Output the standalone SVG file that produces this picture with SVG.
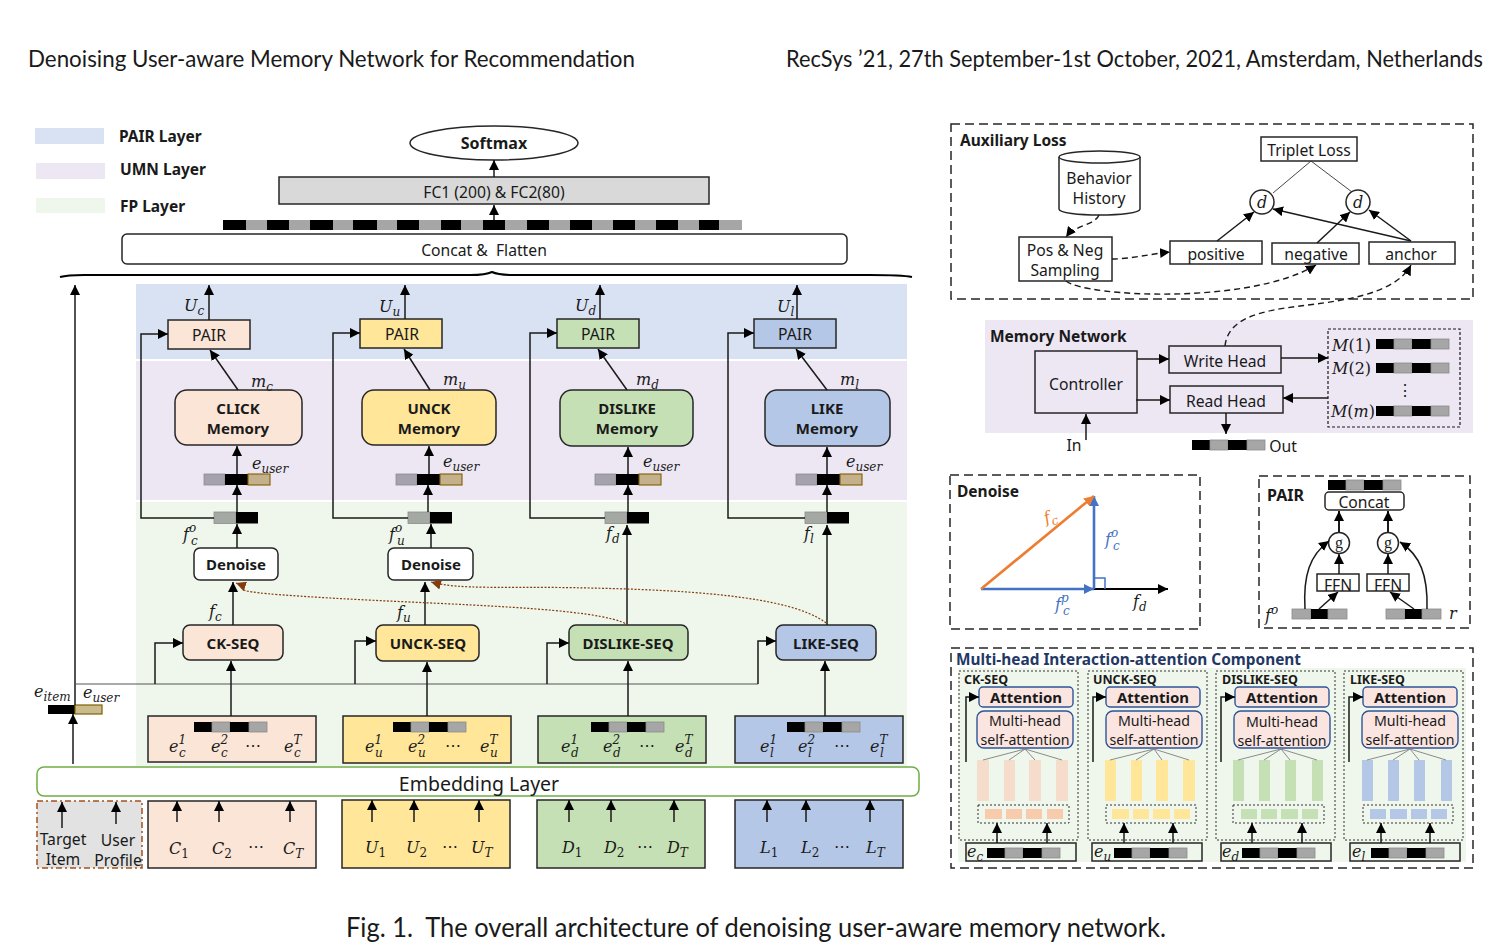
<svg xmlns="http://www.w3.org/2000/svg" width="1496" height="952" viewBox="0 0 1496 952">
<style>
text{fill:#1a1a1a}
.t{font-family:"Noto Sans","Open Sans",sans-serif;font-size:15.7px;text-anchor:middle;transform:translateY(.8px)}
.mh{font-family:"Noto Sans","Open Sans",sans-serif;font-size:14.2px;text-anchor:middle}
.b{font-family:"Noto Sans","Open Sans",sans-serif;font-size:15px;font-weight:700;text-anchor:middle}
.h{font-family:"Noto Sans","Open Sans",sans-serif;font-size:15.5px;font-weight:700;transform:translateY(.8px)}
.s{font-family:"Noto Sans","Open Sans",sans-serif;font-size:12.5px;font-weight:700}
.cap{font-family:Lato,"Liberation Sans",sans-serif}
.gg{font-family:"Liberation Serif",serif}
.m{font-family:"DejaVu Serif","Liberation Serif",serif;font-style:italic;font-size:16px}
.up{font-size:12px}
.rm{font-style:normal}
.box{stroke:#262626;stroke-width:1.5}
.c{fill:#fbe5d6}.u{fill:#ffe699}.d{fill:#c5e0b4}.l{fill:#b4c7e7}
.w{fill:#fff}.n{fill:none}
.dash{fill:none;stroke:#262626;stroke-width:1.5;stroke-dasharray:9 5}
.dot{fill:none;stroke:#333;stroke-width:1;stroke-dasharray:2 2}
.ar{fill:none;stroke:#1a1a1a;stroke-width:1.5;marker-end:url(#a)}
.da{fill:none;stroke:#1a1a1a;stroke-width:1.4;stroke-dasharray:6 4;marker-end:url(#a)}
.bd{fill:none;stroke:#843c0c;stroke-width:1.2;stroke-dasharray:2 1.6;marker-end:url(#r)}
.thin{fill:none;stroke:#7f7f7f;stroke-width:.9}
.hat{fill:#fbe5e1;stroke:#2f5597;stroke-width:1.4}
.bk{fill:#000}.gy{fill:#a6a6a6;stroke:#8c8c8c;stroke-width:.8}
.tn{fill:#c4b08b;stroke:#7f6000;stroke-width:1.1}
.pg{fill:#a5a2ad;stroke:#8c8c8c;stroke-width:.8}
.bl,.bl tspan{fill:#4472c4}
.or,.or tspan{fill:#ed7d31}
</style>
<defs>
<marker id="a" markerUnits="userSpaceOnUse" markerWidth="11" markerHeight="10" refX="10" refY="5" orient="auto"><path d="M0 0L10 5L0 10z" fill="#000"/></marker>
<marker id="r" markerUnits="userSpaceOnUse" markerWidth="11" markerHeight="10" refX="10" refY="5" orient="auto"><path d="M0 0L10 5L0 10z" fill="#843c0c"/></marker>
<marker id="o" markerUnits="userSpaceOnUse" markerWidth="11" markerHeight="10" refX="10" refY="5" orient="auto"><path d="M0 0L10 5L0 10z" fill="#ed7d31"/></marker>
<marker id="bm" markerUnits="userSpaceOnUse" markerWidth="11" markerHeight="10" refX="10" refY="5" orient="auto"><path d="M0 0L10 5L0 10z" fill="#4472c4"/></marker>
<g id="b4"><rect width="18" height="10" class="bk"/><rect x="18" width="18" height="10" class="gy"/><rect x="36" width="19" height="10" class="bk"/><rect x="55" width="18" height="10" class="gy"/></g>
<g id="bu"><rect width="21" height="11" class="pg"/><rect x="21" width="23" height="11" class="bk"/><rect x="44" width="22" height="11" class="tn"/></g>
<g id="bf"><rect width="22" height="11.500" fill="#a5a9a3" stroke="#8c8c8c" stroke-width=".8"/><rect x="22" width="22" height="11.500" class="bk"/></g>
<g id="b3"><rect width="19" height="10" class="gy"/><rect x="19" width="17" height="10" class="bk"/><rect x="36" width="19" height="10" class="gy"/></g>
</defs>
<rect width="1496" height="952" fill="#fff"/>

<g id="header">
<text class="cap" x="28" y="67" font-size="23" textLength="607" lengthAdjust="spacingAndGlyphs">Denoising User-aware Memory Network for Recommendation</text>
<text class="cap" x="786" y="67" font-size="22.5" textLength="697" lengthAdjust="spacingAndGlyphs">RecSys ’21, 27th September-1st October, 2021, Amsterdam, Netherlands</text>
<text class="cap" x="346" y="937" font-size="27" textLength="820" lengthAdjust="spacingAndGlyphs" xml:space="preserve">Fig. 1.  The overall architecture of denoising user-aware memory network.</text>
</g>

<g id="legend">
<rect x="35" y="128" width="69" height="16" fill="#d9e2f3"/><text class="h" x="119" y="141">PAIR Layer</text>
<rect x="36" y="163" width="69" height="16" fill="#ede7f4"/><text class="h" x="120" y="174">UMN Layer</text>
<rect x="36" y="198" width="69" height="15" fill="#eff6ec"/><text class="h" x="120" y="211">FP Layer</text>
</g>

<g id="bands">
<rect x="136" y="284" width="771" height="75" fill="#d9e2f3"/>
<rect x="136" y="361" width="771" height="139" fill="#ede7f4"/>
<rect x="136" y="502" width="771" height="264" fill="#eff6ec"/>
</g>

<g id="softmax"><ellipse cx="494" cy="143" rx="84" ry="17" class="box w"/><text class="b" x="494" y="149" style="font-size:16px">Softmax</text></g>
<g id="fc"><rect x="279" y="177" width="430" height="27" fill="#d9d9d9" class="box"/><text class="t" x="494" y="197">FC1 (200) &amp; FC2(80)</text></g>
<g id="flat-bar"><rect x="223" y="220" width="519" height="10" fill="#a6a6a6"/>
<path d="M223 220h23v10h-23zM267 220h22v10h-22zM310 220h23v10h-23zM353 220h24v10h-24zM397 220h22v10h-22zM441 220h20v10h-20zM483 220h22v10h-22zM527 220h22v10h-22zM570 220h22v10h-22zM613 220h22v10h-22zM656 220h22v10h-22zM699 220h20v10h-20z" fill="#000"/></g>
<g id="concat"><rect x="122" y="234" width="725" height="30" rx="5" class="box w"/><text class="t" x="484" y="255" xml:space="preserve">Concat &amp;  Flatten</text></g>
<path id="brace" d="M60 277C70 274 80 275 100 275H470C482 275 488 274 492 272C496 274 502 275 514 275H870C890 275 902 275 912 277" fill="none" stroke="#000" stroke-width="2"/>

<g id="pair-c"><rect x="168" y="320" width="82" height="29" class="box c"/><text class="t" x="209" y="340">PAIR</text></g>
<g id="pair-u"><rect x="360" y="319" width="82" height="29" class="box u"/><text class="t" x="402" y="339">PAIR</text></g>
<g id="pair-d"><rect x="557" y="319" width="82" height="29" class="box d"/><text class="t" x="598" y="339">PAIR</text></g>
<g id="pair-l"><rect x="754" y="319" width="82" height="29" class="box l"/><text class="t" x="795" y="339">PAIR</text></g>

<g id="mem-c"><rect x="175" y="390" width="127" height="55" rx="12" class="box c"/><text class="b" x="238" y="414">CLICK</text><text class="b" x="238" y="434">Memory</text></g>
<g id="mem-u"><rect x="362" y="390" width="134" height="55" rx="12" class="box u"/><text class="b" x="429" y="414">UNCK</text><text class="b" x="429" y="434">Memory</text></g>
<g id="mem-d"><rect x="560" y="390" width="133" height="56" rx="12" class="box d"/><text class="b" x="627" y="414">DISLIKE</text><text class="b" x="627" y="434">Memory</text></g>
<g id="mem-l"><rect x="765" y="390" width="125" height="56" rx="12" class="box l"/><text class="b" x="827" y="414">LIKE</text><text class="b" x="827" y="434">Memory</text></g>

<g id="bars">
<use href="#bu" x="204" y="474"/><use href="#bu" x="396" y="474"/><use href="#bu" x="595" y="474"/><use href="#bu" x="796" y="474"/>
<use href="#bf" x="214" y="512"/><use href="#bf" x="408" y="512"/><use href="#bf" x="605" y="512"/><use href="#bf" x="805" y="512"/>
</g>

<g id="denoise-c"><rect x="194" y="548" width="84" height="32" rx="6" class="box w"/><text class="b" x="236" y="570">Denoise</text></g>
<g id="denoise-u"><rect x="388" y="548" width="85" height="32" rx="6" class="box w"/><text class="b" x="431" y="570">Denoise</text></g>

<g id="seq-c"><rect x="183" y="625" width="100" height="35" rx="7" class="box c"/><text class="b" x="233" y="649">CK-SEQ</text></g>
<g id="seq-u"><rect x="376" y="625" width="103" height="36" rx="7" class="box u"/><text class="b" x="428" y="649">UNCK-SEQ</text></g>
<g id="seq-d"><rect x="569" y="625" width="119" height="35" rx="7" class="box d"/><text class="b" x="628" y="649">DISLIKE-SEQ</text></g>
<g id="seq-l"><rect x="776" y="625" width="100" height="35" rx="7" class="box l"/><text class="b" x="826" y="649">LIKE-SEQ</text></g>

<g id="emb-c"><rect x="148" y="716" width="168" height="46" class="box c"/><use href="#b4" x="194" y="722"/>
<text class="m" x="169" y="752">e<tspan class="up" dy="-8">1</tspan><tspan class="up" x="179" dy="13">c</tspan></text><text class="m" x="211" y="752">e<tspan class="up" dy="-8">2</tspan><tspan class="up" x="221" dy="13">c</tspan></text><text class="t" x="253" y="750">⋯</text><text class="m" x="284" y="752">e<tspan class="up" dy="-8">T</tspan><tspan class="up" x="294" dy="13">c</tspan></text></g>
<g id="emb-u"><rect x="343" y="716" width="168" height="47" class="box u"/><use href="#b4" x="393" y="722"/>
<text class="m" x="365" y="752">e<tspan class="up" dy="-8">1</tspan><tspan class="up" x="375" dy="13">u</tspan></text><text class="m" x="408" y="752">e<tspan class="up" dy="-8">2</tspan><tspan class="up" x="418" dy="13">u</tspan></text><text class="t" x="453" y="750">⋯</text><text class="m" x="480" y="752">e<tspan class="up" dy="-8">T</tspan><tspan class="up" x="490" dy="13">u</tspan></text></g>
<g id="emb-d"><rect x="538" y="716" width="168" height="47" class="box d"/><use href="#b4" x="591" y="722"/>
<text class="m" x="561" y="752">e<tspan class="up" dy="-8">1</tspan><tspan class="up" x="571" dy="13">d</tspan></text><text class="m" x="603" y="752">e<tspan class="up" dy="-8">2</tspan><tspan class="up" x="613" dy="13">d</tspan></text><text class="t" x="647" y="750">⋯</text><text class="m" x="675" y="752">e<tspan class="up" dy="-8">T</tspan><tspan class="up" x="685" dy="13">d</tspan></text></g>
<g id="emb-l"><rect x="735" y="716" width="168" height="47" class="box l"/><use href="#b4" x="787" y="722"/>
<text class="m" x="760" y="752">e<tspan class="up" dy="-8">1</tspan><tspan class="up" x="770" dy="13">l</tspan></text><text class="m" x="798" y="752">e<tspan class="up" dy="-8">2</tspan><tspan class="up" x="808" dy="13">l</tspan></text><text class="t" x="842" y="750">⋯</text><text class="m" x="870" y="752">e<tspan class="up" dy="-8">T</tspan><tspan class="up" x="880" dy="13">l</tspan></text></g>

<g id="embedding"><rect x="37" y="767" width="882" height="29" rx="7" fill="#fff" stroke="#70ad47" stroke-width="1.500"/><text class="t" x="479" y="790" style="font-size:19.5px">Embedding Layer</text></g>

<g id="input-profile"><rect x="37" y="801" width="105" height="67" fill="#e2e2e2" stroke="#a5501b" stroke-width="1.500" stroke-dasharray="6 3 2 3"/>
<text class="t" x="63" y="844">Target</text><text class="t" x="63" y="864">Item</text><text class="t" x="118" y="845">User</text><text class="t" x="118" y="865">Profile</text></g>
<g id="input-c"><rect x="148" y="801" width="168" height="67" class="box c"/><text class="m" x="169" y="854">C<tspan class="up rm" dy="4">1</tspan></text><text class="m" x="212" y="854">C<tspan class="up rm" dy="4">2</tspan></text><text class="t" x="256" y="851">⋯</text><text class="m" x="283" y="854">C<tspan class="up" dy="4">T</tspan></text></g>
<g id="input-u"><rect x="342" y="800" width="168" height="68" class="box u"/><text class="m" x="365" y="853">U<tspan class="up rm" dy="4">1</tspan></text><text class="m" x="406" y="853">U<tspan class="up rm" dy="4">2</tspan></text><text class="t" x="450" y="851">⋯</text><text class="m" x="471" y="853">U<tspan class="up" dy="4">T</tspan></text></g>
<g id="input-d"><rect x="537" y="800" width="168" height="68" class="box d"/><text class="m" x="562" y="853">D<tspan class="up rm" dy="4">1</tspan></text><text class="m" x="604" y="853">D<tspan class="up rm" dy="4">2</tspan></text><text class="t" x="645" y="851">⋯</text><text class="m" x="667" y="853">D<tspan class="up" dy="4">T</tspan></text></g>
<g id="input-l"><rect x="735" y="800" width="168" height="68" class="box l"/><text class="m" x="760" y="853">L<tspan class="up rm" dy="4">1</tspan></text><text class="m" x="801" y="853">L<tspan class="up rm" dy="4">2</tspan></text><text class="t" x="842" y="851">⋯</text><text class="m" x="866" y="853">L<tspan class="up" dy="4">T</tspan></text></g>

<g id="item-user-bar"><rect x="48" y="705" width="27" height="9" class="bk"/><rect x="75" y="705" width="27" height="9" fill="#c9bb8f" stroke="#7f6000" stroke-width="1.200"/></g>

<g id="labels">
<text class="m" x="184" y="311">U<tspan class="up" dy="4">c</tspan></text><text class="m" x="379" y="312">U<tspan class="up" dy="4">u</tspan></text><text class="m" x="575" y="311">U<tspan class="up" dy="4">d</tspan></text><text class="m" x="777" y="312">U<tspan class="up" dy="4">l</tspan></text>
<text class="m" x="251" y="387">m<tspan class="up" dy="4">c</tspan></text><text class="m" x="443" y="385">m<tspan class="up" dy="4">u</tspan></text><text class="m" x="636" y="385">m<tspan class="up" dy="4">d</tspan></text><text class="m" x="840" y="385">m<tspan class="up" dy="4">l</tspan></text>
<text class="m" x="252" y="469">e<tspan class="up" dy="4">user</tspan></text><text class="m" x="443" y="467">e<tspan class="up" dy="4">user</tspan></text><text class="m" x="643" y="467">e<tspan class="up" dy="4">user</tspan></text><text class="m" x="846" y="467">e<tspan class="up" dy="4">user</tspan></text>
<text class="m" x="183" y="540">f<tspan class="up" dy="-8">o</tspan><tspan class="up" x="191" dy="13">c</tspan></text><text class="m" x="389" y="540">f<tspan class="up" dy="-8">o</tspan><tspan class="up" x="397" dy="13">u</tspan></text>
<text class="m" x="606" y="539">f<tspan class="up" dy="4">d</tspan></text><text class="m" x="804" y="539">f<tspan class="up" dy="4">l</tspan></text>
<text class="m" x="209" y="617">f<tspan class="up" dy="4">c</tspan></text><text class="m" x="397" y="618">f<tspan class="up" dy="4">u</tspan></text>
<text class="m" x="34" y="697">e<tspan class="up" dy="4">item</tspan></text><text class="m" x="83" y="698">e<tspan class="up" dy="4">user</tspan></text>
</g>

<g id="aux-loss">
<rect x="951" y="124" width="522" height="175" class="dash"/>
<text class="h" x="960" y="145">Auxiliary Loss</text>
<g id="behavior"><path d="M1059 157V209C1059 217 1140 217 1140 209V157" class="box w"/><ellipse cx="1099.500" cy="157" rx="40.500" ry="6" class="box w"/><text class="t" x="1099" y="183">Behavior</text><text class="t" x="1099" y="203">History</text></g>
<g id="sampling"><rect x="1019" y="237" width="93" height="44" class="box w"/><text class="t" x="1065" y="255">Pos &amp; Neg</text><text class="t" x="1065" y="275">Sampling</text></g>
<g id="triplet"><rect x="1261" y="137" width="96" height="24" class="box w"/><text class="t" x="1309" y="155">Triplet Loss</text></g>
<g id="d1"><circle cx="1262" cy="202" r="12" class="box w"/><text class="m" x="1262" y="208" text-anchor="middle">d</text></g>
<g id="d2"><circle cx="1358" cy="202" r="12" class="box w"/><text class="m" x="1358" y="208" text-anchor="middle">d</text></g>
<g id="positive"><rect x="1170" y="241" width="92" height="23" class="box w"/><text class="t" x="1216" y="259">positive</text></g>
<g id="negative"><rect x="1272" y="243" width="87" height="21" class="box w"/><text class="t" x="1316" y="259">negative</text></g>
<g id="anchor"><rect x="1369" y="242" width="86" height="22" class="box w"/><text class="t" x="1411" y="259">anchor</text></g>
</g>

<g id="memory-network">
<rect x="985" y="320" width="488" height="113" fill="#ede7f4"/>
<text class="h" x="990" y="341">Memory Network</text>
<g id="controller"><rect x="1035" y="351" width="102" height="62" class="box n"/><text class="t" x="1086" y="389">Controller</text></g>
<g id="write-head"><rect x="1169" y="346" width="112" height="27" class="box n"/><text class="t" x="1225" y="366">Write Head</text></g>
<g id="read-head"><rect x="1170" y="386" width="113" height="27" class="box n"/><text class="t" x="1226" y="406">Read Head</text></g>
<g id="memory-slots"><rect x="1328" y="329" width="132" height="98" fill="none" stroke="#1a1a1a" stroke-width="1.200" stroke-dasharray="3 2"/>
<text class="m" x="1332" y="351">M<tspan class="rm">(1)</tspan></text><use href="#b4" x="1376" y="339"/>
<text class="m" x="1332" y="374">M<tspan class="rm">(2)</tspan></text><use href="#b4" x="1376" y="363"/>
<text class="t" x="1405" y="395">⋮</text>
<text class="m" x="1331" y="417" textLength="44" lengthAdjust="spacingAndGlyphs">M<tspan class="rm">(</tspan>m<tspan class="rm">)</tspan></text><use href="#b4" x="1376" y="406"/></g>
<text class="t" x="1074" y="450">In</text>
<use href="#b4" x="1192" y="440"/><text class="t" x="1283" y="451">Out</text>
</g>

<g id="denoise-panel">
<rect x="950" y="475" width="250" height="154" class="dash"/>
<text class="h" x="957" y="496">Denoise</text>
<path d="M1094 589H1168" fill="none" stroke="#000" stroke-width="2.200" marker-end="url(#a)"/>
<path d="M981 589H1094" fill="none" stroke="#4472c4" stroke-width="2.600" marker-end="url(#bm)"/>
<path d="M1094 589V496" fill="none" stroke="#4472c4" stroke-width="2.600" marker-end="url(#bm)"/>
<path d="M981 589L1094 496" fill="none" stroke="#ed7d31" stroke-width="2.600" marker-end="url(#o)"/>
<path d="M1094 578H1105V589" fill="none" stroke="#4472c4" stroke-width="1.500"/>
<text class="m or" x="1044" y="522" transform="rotate(-20 1050 517)">f<tspan class="up" dy="4">c</tspan></text>
<text class="m bl" x="1105" y="545">f<tspan class="up" dy="-8">o</tspan><tspan class="up" x="1113" dy="13">c</tspan></text>
<text class="m bl" x="1055" y="610">f<tspan class="up" dy="-8">p</tspan><tspan class="up" x="1063" dy="13">c</tspan></text>
<text class="m" x="1133" y="607">f<tspan class="up" dy="4">d</tspan></text>
</g>

<g id="pair-panel">
<rect x="1259" y="476" width="211" height="152" class="dash"/>
<text class="h" x="1267" y="500" style="font-size:16px">PAIR</text>
<use href="#b4" x="1328" y="480"/>
<g id="pair-concat"><rect x="1325" y="492" width="79" height="18" rx="4" class="box w"/><text class="t" x="1364" y="507">Concat</text></g>
<g id="g1"><circle cx="1339" cy="543" r="10.500" class="box w"/><text class="gg" x="1339" y="548" font-size="16" text-anchor="middle">g</text></g>
<g id="g2"><circle cx="1388" cy="543" r="10.500" class="box w"/><text class="gg" x="1388" y="548" font-size="16" text-anchor="middle">g</text></g>
<g id="ffn1"><rect x="1317" y="574" width="42" height="17" class="box w"/><text class="t" x="1338" y="590">FFN</text></g>
<g id="ffn2"><rect x="1367" y="574" width="42" height="17" class="box w"/><text class="t" x="1388" y="590">FFN</text></g>
<use href="#b3" x="1292" y="609"/><use href="#b3" x="1386" y="609"/>
<text class="m" x="1265" y="621">f<tspan class="up" dy="-7">o</tspan></text>
<text class="m" x="1449" y="619">r</text>
</g>

<g id="mhia-panel">
<rect x="951" y="648" width="522" height="220" class="dash"/>
<rect x="958" y="668" width="508" height="194" fill="#eff6ec"/>
<text class="h" x="956" y="664" style="fill:#1f3864;font-size:16px" textLength="345" lengthAdjust="spacingAndGlyphs">Multi-head Interaction-attention Component</text>

<g id="mh-ck"><rect x="959" y="671" width="119" height="169" class="dot"/><text class="s" x="964" y="684">CK-SEQ</text>
<rect x="979" y="687" width="94" height="20" rx="4" class="hat"/><text class="b" x="1026" y="703">Attention</text>
<rect x="977" y="711" width="96" height="37" rx="7" class="hat"/><text class="mh" x="1025" y="726">Multi-head</text><text class="mh" x="1025" y="745">self-attention</text>
<path d="M977 760h12v41h-12zM1004 760h11v41h-11zM1029 760h12v41h-12zM1056 760h12v41h-12z" fill="#f6dccb"/>
<path d="M1025 749L983 760M1025 749L1009 760M1025 749L1035 760M1025 749L1062 760" class="thin"/>
<rect x="978" y="805" width="91" height="18" class="dot"/>
<path d="M985 809h17v10h-17zM1006 809h16v10h-16zM1026 809h16v10h-16zM1047 809h16v10h-16z" fill="#f8cbad"/>
<rect x="966" y="843" width="110" height="18" class="box n"/><text class="m" x="967" y="857">e<tspan class="up" dy="4">c</tspan></text><use href="#b4" x="987" y="848"/></g>

<g id="mh-unck"><rect x="1088" y="671" width="119" height="169" class="dot"/><text class="s" x="1093" y="684">UNCK-SEQ</text>
<rect x="1106" y="687" width="94" height="20" rx="4" class="hat"/><text class="b" x="1153" y="703">Attention</text>
<rect x="1106" y="711" width="96" height="37" rx="7" class="hat"/><text class="mh" x="1154" y="726">Multi-head</text><text class="mh" x="1154" y="745">self-attention</text>
<path d="M1105 760h11v41h-11zM1131 760h11v41h-11zM1156 760h12v41h-12zM1183 760h12v41h-12z" fill="#ffe699"/>
<path d="M1154 749L1110 760M1154 749L1136 760M1154 749L1162 760M1154 749L1189 760" class="thin"/>
<rect x="1106" y="805" width="90" height="18" class="dot"/>
<path d="M1112 809h17v10h-17zM1133 809h16v10h-16zM1153 809h17v10h-17zM1174 809h16v10h-16z" fill="#ffe699"/>
<rect x="1092" y="843" width="110" height="18" class="box n"/><text class="m" x="1094" y="857">e<tspan class="up" dy="4">u</tspan></text><use href="#b4" x="1114" y="848"/></g>

<g id="mh-dislike"><rect x="1216" y="671" width="119" height="169" class="dot"/><text class="s" x="1222" y="684">DISLIKE-SEQ</text>
<rect x="1235" y="687" width="94" height="20" rx="4" class="hat"/><text class="b" x="1282" y="703">Attention</text>
<rect x="1234" y="711" width="96" height="37" rx="7" class="hat"/><text class="mh" x="1282" y="727">Multi-head</text><text class="mh" x="1282" y="746">self-attention</text>
<path d="M1233 760h11v41h-11zM1259 760h11v41h-11zM1285 760h11v41h-11zM1312 760h11v41h-11z" fill="#c5e0b4"/>
<path d="M1281 749L1238 760M1281 749L1264 760M1281 749L1290 760M1281 749L1317 760" class="thin"/>
<rect x="1233" y="805" width="91" height="18" class="dot"/>
<path d="M1241 809h16v10h-16zM1261 809h16v10h-16zM1281 809h17v10h-17zM1302 809h16v10h-16z" fill="#c5e0b4"/>
<rect x="1221" y="843" width="110" height="18" class="box n"/><text class="m" x="1222" y="857">e<tspan class="up" dy="4">d</tspan></text><use href="#b4" x="1242" y="848"/></g>

<g id="mh-like"><rect x="1344" y="671" width="119" height="169" class="dot"/><text class="s" x="1350" y="684">LIKE-SEQ</text>
<rect x="1363" y="687" width="94" height="20" rx="4" class="hat"/><text class="b" x="1410" y="703">Attention</text>
<rect x="1362" y="711" width="96" height="37" rx="7" class="hat"/><text class="mh" x="1410" y="726">Multi-head</text><text class="mh" x="1410" y="745">self-attention</text>
<path d="M1362 760h11v41h-11zM1388 760h11v41h-11zM1414 760h11v41h-11zM1441 760h11v41h-11z" fill="#b4c7e7"/>
<path d="M1410 749L1367 760M1410 749L1393 760M1410 749L1419 760M1410 749L1446 760" class="thin"/>
<rect x="1363" y="805" width="90" height="18" class="dot"/>
<path d="M1370 809h16v10h-16zM1390 809h17v10h-17zM1411 809h16v10h-16zM1431 809h16v10h-16z" fill="#b4c7e7"/>
<rect x="1350" y="843" width="110" height="18" class="box n"/><text class="m" x="1352" y="857">e<tspan class="up" dy="4">l</tspan></text><use href="#b4" x="1371" y="848"/></g>
</g>

<g id="connectors">
<path class="ar" d="M494 177V160"/><path class="ar" d="M494 220V205"/>
<path class="ar" d="M75 705V285"/><path class="ar" d="M73 764V714"/>
<path d="M75 684H758" fill="none" stroke="#555" stroke-width="1.100"/>
<path class="ar" d="M155 684V643H183"/><path class="ar" d="M355 684V641H376"/><path class="ar" d="M547 684V643H569"/><path class="ar" d="M758 684V641H776"/>
<path class="ar" d="M209 320V285"/><path class="ar" d="M405 319V285"/><path class="ar" d="M600 319V285"/><path class="ar" d="M797 319V285"/>
<path class="ar" d="M214 518H141V334H168"/><path class="ar" d="M408 518H333V333H360"/><path class="ar" d="M605 518H530V333H557"/><path class="ar" d="M805 518H728V333H754"/>
<path class="ar" d="M238 390L210 350"/><path class="ar" d="M430 390L404 349"/><path class="ar" d="M627 390L598 349"/><path class="ar" d="M827 390L796 349"/>
<path class="ar" d="M237 474V446"/><path class="ar" d="M429 474V446"/><path class="ar" d="M628 474V447"/><path class="ar" d="M827 474V447"/>
<path class="ar" d="M237 512V485"/><path class="ar" d="M428 512V485"/><path class="ar" d="M628 512V485"/><path class="ar" d="M827 512V485"/>
<path class="ar" d="M237 548V524"/><path class="ar" d="M431 548V524"/>
<path class="ar" d="M233 625V582"/><path class="ar" d="M425 625V582"/><path class="ar" d="M627 625V525"/><path class="ar" d="M827 625V525"/>
<path class="ar" d="M231 716V661"/><path class="ar" d="M427 716V662"/><path class="ar" d="M628 716V661"/><path class="ar" d="M825 716V661"/>
<path class="bd" d="M628 625C600 607 450 605 330 598S255 590 236 583"/>
<path class="bd" d="M826 623C790 595 680 590 590 588S460 590 431 582"/>
<path class="ar" d="M62 828V802"/><path class="ar" d="M116 824V802"/>
<path class="ar" d="M177 822V801"/><path class="ar" d="M219 822V801"/><path class="ar" d="M290 822V801"/>
<path class="ar" d="M372 822V800"/><path class="ar" d="M414 822V800"/><path class="ar" d="M479 822V800"/>
<path class="ar" d="M569 822V800"/><path class="ar" d="M611 822V800"/><path class="ar" d="M674 822V800"/>
<path class="ar" d="M767 822V800"/><path class="ar" d="M806 822V800"/><path class="ar" d="M870 822V800"/>

<path d="M1311 161L1273 193M1311 161L1352 192" fill="none" stroke="#333" stroke-width=".9"/>
<path class="ar" d="M1217 241L1254 212"/><path class="ar" d="M1317 243L1350 212"/><path class="ar" d="M1411 241L1273 209"/><path class="ar" d="M1411 241L1369 210"/>
<path class="da" d="M1099 215C1095 225 1075 225 1066 237"/>
<path class="da" d="M1112 259C1130 259 1150 254 1170 252"/>
<path class="da" d="M1066 281C1085 297 1250 305 1316 265"/>
<path class="da" d="M1225 346C1228 318 1260 311 1300 306S1395 295 1411 265"/>
<path class="ar" d="M1137 359H1169"/><path class="ar" d="M1136 400H1170"/><path class="ar" d="M1281 358H1328"/><path class="ar" d="M1328 398H1283"/><path class="ar" d="M1226 413V434"/><path class="ar" d="M1086 440V414"/>

<path class="ar" style="stroke-width:2" d="M1339 532V511"/><path class="ar" style="stroke-width:2" d="M1388 532V511"/>
<path class="ar" d="M1339 574V554"/><path class="ar" d="M1388 574V554"/>
<path class="ar" d="M1319 609L1338 592"/><path class="ar" d="M1414 609L1390 592"/>
<path class="ar" d="M1305 609C1303 575 1310 555 1329 541"/><path class="ar" d="M1427 609C1428 575 1420 555 1400 542"/>

<path class="ar" d="M966 762V697H979"/><path class="ar" d="M1093 762V697H1106"/><path class="ar" d="M1221 762V697H1235"/><path class="ar" d="M1349 762V697H1363"/>
<path class="ar" d="M997 843V823"/><path class="ar" d="M1047 843V823"/><path class="ar" d="M1124 843V823"/><path class="ar" d="M1173 843V823"/><path class="ar" d="M1252 843V823"/><path class="ar" d="M1302 843V823"/><path class="ar" d="M1381 843V823"/><path class="ar" d="M1430 843V823"/>
</g>
</svg>
